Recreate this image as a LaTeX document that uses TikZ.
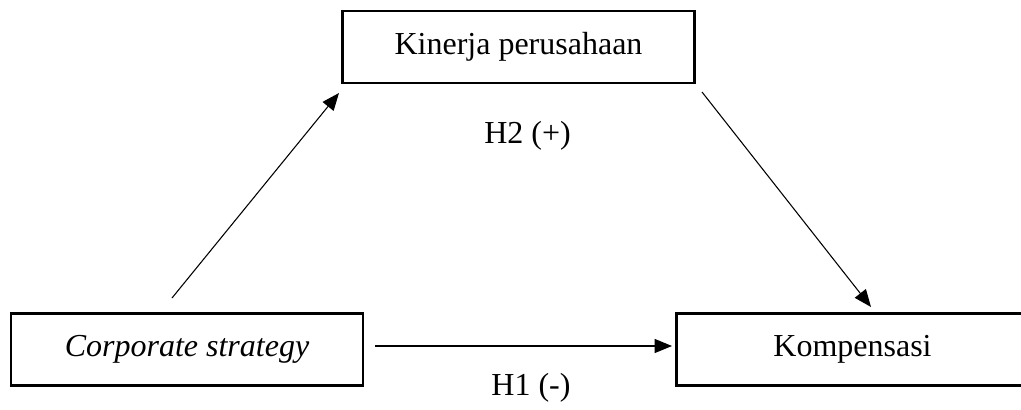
\documentclass[tikz,border=0pt]{standalone}
\usepackage{fontspec}
\setmainfont{Liberation Serif}
\usetikzlibrary{arrows.meta}
\tikzset{
  varbox/.style={draw, line width=1.9pt, minimum width=264pt, minimum height=54pt,
    inner sep=0pt, font=\fontsize{24}{28}\selectfont},
  path arrow/.style={line width=0.8pt, -{Triangle[length=13pt,width=10.5pt]}},
  hyp/.style={anchor=base, inner sep=0pt, font=\fontsize{24}{28}\selectfont},
}
\begin{document}
\begin{tikzpicture}[x=0.75pt, y=-0.75pt]
  \useasboundingbox (0,0) rectangle (1021,410);
  \clip (0,0) rectangle (1021,410);
  % variables
  \node[varbox] (kp) at (518.5,47) {Kinerja perusahaan};
  \node[varbox] (cs) at (187,349.5) {\itshape Corporate strategy};
  \node[varbox] (ko) at (852.5,349.5) {Kompensasi};
  % free ends of the paths
  \coordinate (a1s) at (172,298);
  \coordinate (a1e) at (339,93);
  \coordinate (a2s) at (702,92);
  \coordinate (a2e) at (871,307);
  \coordinate (a3s) at (375,346);
  \coordinate (a3e) at (672,346);
  % paths
  \draw[path arrow] (a1s) -- (a1e);
  \draw[path arrow] (a2s) -- (a2e);
  \draw[path arrow] (a3s) -- (a3e);
  % hypothesis labels
  \node[hyp] (h2) at (527.5,143) {H2 (+)};
  \node[hyp] (h1) at (531,395) {H1 (-)};
\end{tikzpicture}
\end{document}
